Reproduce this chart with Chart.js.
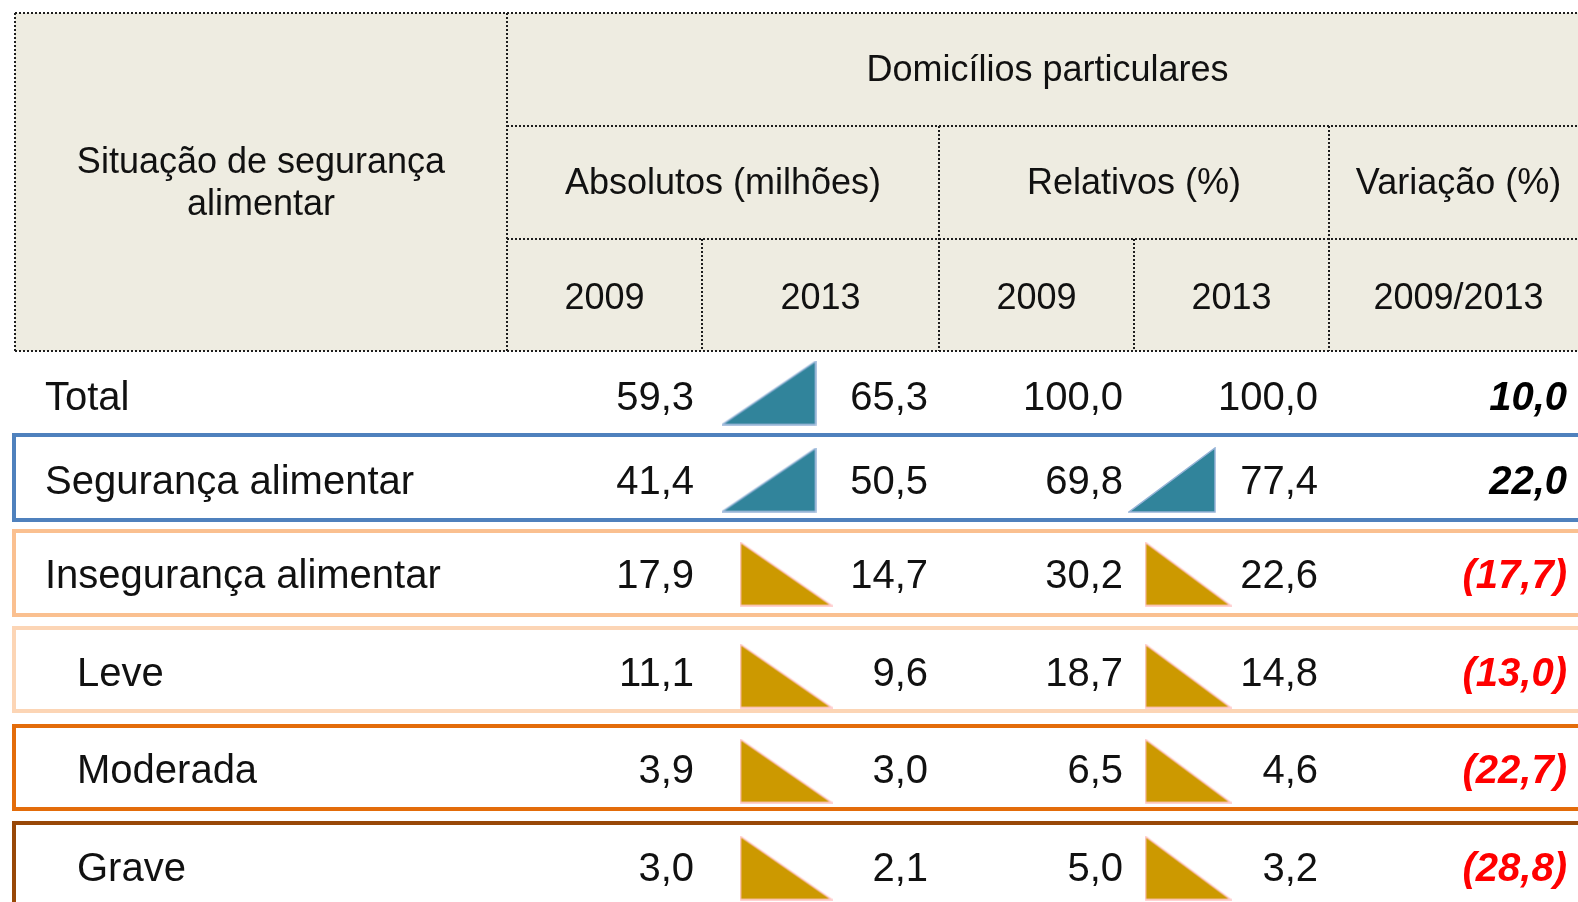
<!DOCTYPE html>
<html><head><meta charset="utf-8">
<script src="https://cdn.jsdelivr.net/npm/chart.js@4.4.0/dist/chart.umd.min.js"></script>
<style>html,body{margin:0;padding:0;background:#fff;overflow:hidden}canvas{display:block}</style>
</head><body>
<canvas id="c" width="1578" height="902"></canvas>
<script>
// ---- data ----
const categories = ['Total','Segurança alimentar','Insegurança alimentar','Leve','Moderada','Grave'];
const indentLevel = [0,0,0,1,1,1];
const abs2009 = [59.3,41.4,17.9,11.1,3.9,3.0];
const abs2013 = [65.3,50.5,14.7,9.6,3.0,2.1];
const rel2009 = [100.0,69.8,30.2,18.7,6.5,5.0];
const rel2013 = [100.0,77.4,22.6,14.8,4.6,3.2];
const variation = [10.0,22.0,-17.7,-13.0,-22.7,-28.8];
const stubHeader = ['Situação de segurança','alimentar'];
const topHeader = 'Domicílios particulares';
const groupHeaders = ['Absolutos (milhões)','Relativos (%)','Variação (%)'];
const yearLabels = ['2009','2013','2009','2013','2009/2013'];

// ---- layout (table units = pixels of the 1578x902 sheet) ----
const colEdges = [15, 507, 702, 939, 1134, 1329, 1588];
const headerLines = [13, 126, 239, 351];
const headerBaselines = [81, 194, 309];
const stubBaselines = [173, 215];
const rowBaselines = [410, 494, 588, 686, 783, 881];
const rowCenters = [393, 480, 574, 676, 771, 868];
const rowBoxTop = [null, 435, 531, 628, 726, 823];
const rowBoxBottom = [null, 520, 615, 711, 809, 990];
const rowBoxColor = [null, '#4f81bd', '#fac090', '#fcd5b5', '#e36c0a', '#984807'];
const numRight = [694, 928, 1123, 1318, 1567];
const labelX = [45, 77];
const triAbsX = {up: 769, down: 786};
const triRelX = {up: 1172, down: 1188};

function fmt(v){ return Math.abs(v).toFixed(1).replace('.', ','); }
function fmtVar(v){ return v < 0 ? '(' + fmt(v) + ')' : fmt(v); }

function makeTri(dir, w, h){
  const c = document.createElement('canvas');
  c.width = w; c.height = h;
  const g = c.getContext('2d');
  g.beginPath();
  if (dir === 'up'){ g.moveTo(1,h-1); g.lineTo(w-1,h-1); g.lineTo(w-1,1); }
  else { g.moveTo(1,1); g.lineTo(1,h-1); g.lineTo(w-1,h-1); }
  g.closePath();
  g.fillStyle = dir === 'up' ? '#31849b' : '#cc9900';
  g.fill();
  g.lineWidth = 1.5;
  g.strokeStyle = dir === 'up' ? '#95b3d7' : '#ffc4c4';
  g.stroke();
  return c;
}
const triAbs = {up: makeTri('up',95,65), down: makeTri('down',93,65)};
const triRel = {up: makeTri('up',88,66), down: makeTri('down',87,65)};

const triPoints = [], triStyles = [];
categories.forEach((c,i)=>{
  if (abs2013[i] !== abs2009[i]){
    const d = abs2013[i] > abs2009[i] ? 'up' : 'down';
    triPoints.push({x: triAbsX[d], y: rowCenters[i]}); triStyles.push(triAbs[d]);
  }
  if (rel2013[i] !== rel2009[i]){
    const d = rel2013[i] > rel2009[i] ? 'up' : 'down';
    triPoints.push({x: triRelX[d], y: rowCenters[i]}); triStyles.push(triRel[d]);
  }
});

const FONT = '"Liberation Sans", Arial, sans-serif';

const tablePlugin = {
  id: 'table',
  beforeDatasetsDraw(chart){
    const {ctx, scales:{x, y}} = chart;
    const px = v => x.getPixelForValue(v), py = v => y.getPixelForValue(v);
    ctx.save();
    ctx.fillStyle = '#eeece1';
    ctx.fillRect(px(colEdges[0]), py(headerLines[0]), px(colEdges[6]) - px(colEdges[0]), py(headerLines[3]) - py(headerLines[0]));
    ctx.strokeStyle = '#1e1e1e'; ctx.lineWidth = 2; ctx.setLineDash([2,2]);
    const seg = (x1,y1,x2,y2)=>{ ctx.beginPath(); ctx.moveTo(px(x1),py(y1)); ctx.lineTo(px(x2),py(y2)); ctx.stroke(); };
    const L = colEdges[0], R = colEdges[6];
    seg(L, headerLines[0], R, headerLines[0]);
    seg(L, headerLines[3], R, headerLines[3]);
    seg(L, headerLines[0], L, headerLines[3]);
    seg(colEdges[1], headerLines[0], colEdges[1], headerLines[3]);
    seg(colEdges[1], headerLines[1], R, headerLines[1]);
    seg(colEdges[1], headerLines[2], R, headerLines[2]);
    seg(colEdges[3], headerLines[1], colEdges[3], headerLines[3]);
    seg(colEdges[5], headerLines[1], colEdges[5], headerLines[3]);
    seg(colEdges[2], headerLines[2], colEdges[2], headerLines[3]);
    seg(colEdges[4], headerLines[2], colEdges[4], headerLines[3]);
    ctx.setLineDash([]); ctx.lineWidth = 4;
    categories.forEach((c,i)=>{
      if (rowBoxTop[i] == null) return;
      ctx.strokeStyle = rowBoxColor[i];
      ctx.strokeRect(px(14), py(rowBoxTop[i]), px(1640) - px(14), py(rowBoxBottom[i]) - py(rowBoxTop[i]));
    });
    ctx.restore();
  },
  afterDatasetsDraw(chart){
    const {ctx, scales:{x, y}} = chart;
    const px = v => x.getPixelForValue(v), py = v => y.getPixelForValue(v);
    ctx.save();
    ctx.fillStyle = '#111';
    ctx.textBaseline = 'alphabetic';
    ctx.font = '36px ' + FONT;
    ctx.textAlign = 'center';
    const stubC = (colEdges[0] + colEdges[1]) / 2;
    stubHeader.forEach((t,k)=> ctx.fillText(t, px(stubC), py(stubBaselines[k])));
    ctx.fillText(topHeader, px((colEdges[1] + colEdges[6]) / 2), py(headerBaselines[0]));
    ctx.fillText(groupHeaders[0], px((colEdges[1] + colEdges[3]) / 2), py(headerBaselines[1]));
    ctx.fillText(groupHeaders[1], px((colEdges[3] + colEdges[5]) / 2), py(headerBaselines[1]));
    ctx.fillText(groupHeaders[2], px((colEdges[5] + colEdges[6]) / 2), py(headerBaselines[1]));
    yearLabels.forEach((t,k)=> ctx.fillText(t, px((colEdges[k+1] + colEdges[k+2]) / 2), py(headerBaselines[2])));
    categories.forEach((c,i)=>{
      const by = py(rowBaselines[i]);
      ctx.font = '40px ' + FONT;
      ctx.textAlign = 'left'; ctx.fillStyle = '#111';
      ctx.fillText(c, px(labelX[indentLevel[i]]), by);
      ctx.textAlign = 'right';
      [abs2009[i], abs2013[i], rel2009[i], rel2013[i]].forEach((v,k)=> ctx.fillText(fmt(v), px(numRight[k]), by));
      ctx.font = 'italic bold 40px ' + FONT;
      ctx.fillStyle = variation[i] < 0 ? '#ff0000' : '#000';
      ctx.fillText(fmtVar(variation[i]), px(numRight[4]), by);
    });
    ctx.restore();
  }
};

new Chart(document.getElementById('c'), {
  type: 'scatter',
  data: { datasets: [{ data: triPoints, pointStyle: triStyles, pointRadius: 5, pointHoverRadius: 5, clip: false }] },
  options: {
    responsive: false, animation: false, events: [],
    layout: { padding: 0, autoPadding: false },
    plugins: { legend: {display:false}, tooltip: {enabled:false} },
    scales: {
      x: { type:'linear', min:0, max:1578, display:false },
      y: { type:'linear', min:0, max:902, reverse:true, display:false }
    }
  },
  plugins: [tablePlugin]
});
</script>
</body></html>
